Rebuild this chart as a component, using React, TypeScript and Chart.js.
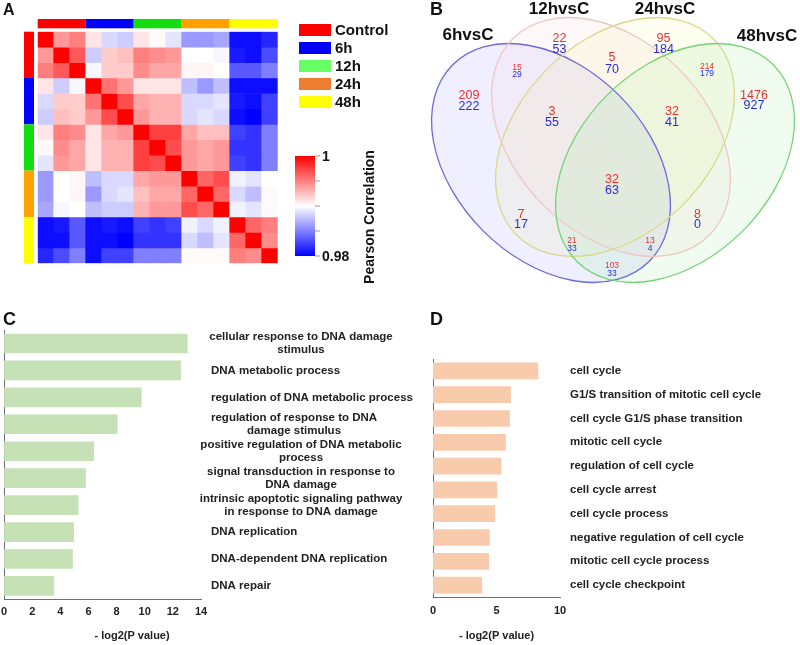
import React, { useEffect, useRef } from "react";
import { Chart, registerables } from "chart.js";
Chart.register(...registerables);

const FONT = 'Arial, "Liberation Sans", Helvetica, sans-serif';

// ---------------- Panel A: Pearson correlation heatmap ----------------
const sampleNames = ["C-1", "C-2", "C-3", "6h-1", "6h-2", "6h-3", "12h-1", "12h-2", "12h-3", "24h-1", "24h-2", "24h-3", "48h-1", "48h-2", "48h-3"];
const groupNames = ["Control", "6h", "12h", "24h", "48h"];
const groupOfSample = [0, 0, 0, 1, 1, 1, 2, 2, 2, 3, 3, 3, 4, 4, 4];
const corrC1 = [1, 0.994, 0.995, 0.991, 0.9885, 0.988, 0.991, 0.9902, 0.989, 0.986, 0.986, 0.9865, 0.9805, 0.9805, 0.9815];
const corrC2 = [0.994, 1, 0.9965, 0.988, 0.992, 0.9925, 0.995, 0.9945, 0.994, 0.99, 0.99, 0.9897, 0.981, 0.9805, 0.983];
const corrC3 = [0.995, 0.9965, 1, 0.9897, 0.992, 0.992, 0.9945, 0.9935, 0.9935, 0.9903, 0.9903, 0.99, 0.9835, 0.9835, 0.985];
const corr6h1 = [0.991, 0.988, 0.9897, 1, 0.9955, 0.994, 0.991, 0.991, 0.991, 0.9875, 0.986, 0.9875, 0.9805, 0.9805, 0.9805];
const corr6h2 = [0.9885, 0.992, 0.992, 0.9955, 1, 0.997, 0.9935, 0.993, 0.993, 0.9885, 0.9885, 0.989, 0.981, 0.9805, 0.9825];
const corr6h3 = [0.988, 0.9925, 0.992, 0.994, 0.997, 1, 0.994, 0.993, 0.993, 0.9885, 0.989, 0.9885, 0.9805, 0.98, 0.9825];
const corr12h1 = [0.991, 0.995, 0.9945, 0.991, 0.9935, 0.994, 1, 0.9975, 0.9975, 0.9935, 0.9925, 0.9925, 0.9825, 0.982, 0.985];
const corr12h2 = [0.9902, 0.9945, 0.9935, 0.991, 0.993, 0.993, 0.9975, 1, 0.997, 0.994, 0.9935, 0.994, 0.982, 0.982, 0.985];
const corr12h3 = [0.989, 0.994, 0.9935, 0.991, 0.993, 0.993, 0.9975, 0.997, 1, 0.994, 0.9935, 0.994, 0.9825, 0.982, 0.985];
const corr24h1 = [0.986, 0.99, 0.9903, 0.9875, 0.9885, 0.9885, 0.9935, 0.994, 0.994, 1, 0.996, 0.997, 0.9895, 0.989, 0.99];
const corr24h2 = [0.986, 0.99, 0.9903, 0.986, 0.9885, 0.989, 0.9925, 0.9935, 0.9935, 0.996, 1, 0.996, 0.9885, 0.9875, 0.9902];
const corr24h3 = [0.9865, 0.9897, 0.99, 0.9875, 0.988, 0.988, 0.993, 0.994, 0.994, 0.997, 0.996, 1, 0.9895, 0.989, 0.9902];
const corr48h1 = [0.9805, 0.981, 0.9835, 0.9805, 0.981, 0.9805, 0.9825, 0.982, 0.9825, 0.9895, 0.9885, 0.9895, 1, 0.996, 0.995];
const corr48h2 = [0.9805, 0.9805, 0.9835, 0.9805, 0.9805, 0.98, 0.982, 0.982, 0.982, 0.9885, 0.9875, 0.989, 0.996, 1, 0.9945];
const corr48h3 = [0.9815, 0.983, 0.985, 0.9805, 0.9825, 0.9825, 0.985, 0.985, 0.985, 0.9902, 0.9902, 0.9902, 0.995, 0.9945, 1];
const corrRows = [corrC1, corrC2, corrC3, corr6h1, corr6h2, corr6h3, corr12h1, corr12h2, corr12h3, corr24h1, corr24h2, corr24h3, corr48h1, corr48h2, corr48h3];
const colorbarTicks = [1, 0.995, 0.99, 0.985, 0.98];
const colorbarTickLabels = ["1", "", "", "", "0.98"];
const groupBarColors = ["#ff0000", "#0000ff", "#11dd11", "#ffa200", "#ffff00"];
const groupLegendColors = ["#ff0000", "#0000ff", "#66ff66", "#ed7d31", "#ffff00"];

// ---------------- Panel B: Venn diagram ----------------
const vennSetNames = ["6hvsC", "12hvsC", "24hvsC", "48hvsC"];
const vennUp = [209, 22, 95, 1476, 15, 5, 214, 3, 32, 7, 8, 32, 21, 13, 103];
const vennDown = [222, 53, 184, 927, 29, 70, 179, 55, 41, 17, 0, 63, 33, 4, 33];

// layout of Venn (not data)
const vennEllipses = [
  { cx: 151, cy: 163, a: 139, b: 96, rot: 45, fill: "rgba(110,110,255,0.11)", stroke: "#6a6adc" },
  { cx: 211, cy: 137, a: 139, b: 96, rot: 45, fill: "rgba(250,160,160,0.08)", stroke: "#efc6c6" },
  { cx: 215, cy: 137, a: 139, b: 96, rot: -45, fill: "rgba(235,235,110,0.10)", stroke: "#d9d98a" },
  { cx: 275, cy: 163, a: 139, b: 96, rot: -45, fill: "rgba(110,225,110,0.11)", stroke: "#74d474" },
];
const vennSetLabelPos = [[68, 35], [159, 9], [265, 9], [367, 36]];
const vennCountPos = [[69, 96, 106.5], [159.5, 39, 49.5], [263.5, 39, 49.5], [354, 95.5, 106], [117, 68, 75], [212, 58, 69.5], [307, 67, 74], [152, 112, 122.5], [272, 112, 122.5], [121, 215, 224.5], [297.5, 215, 224.5], [212, 179.5, 190.5], [172, 241, 249], [250, 241, 249], [212, 266, 273.5]];
const vennCountSmall = [false, false, false, false, true, false, true, false, false, false, false, false, true, true, true];

// ---------------- Panel C: GO terms (green) ----------------
const cTerms = [
  "cellular response to DNA damage\nstimulus",
  "DNA metabolic process",
  "regulation of DNA metabolic process",
  "regulation of response to DNA\ndamage stimulus",
  "positive regulation of DNA metabolic\nprocess",
  "signal transduction in response to\nDNA damage",
  "intrinsic apoptotic signaling pathway\nin response to DNA damage",
  "DNA replication",
  "DNA-dependent DNA replication",
  "DNA repair",
];
const cValues = [13.05, 12.57, 9.78, 8.07, 6.4, 5.81, 5.29, 4.98, 4.89, 3.56];

// ---------------- Panel D: GO terms (orange) ----------------
const dTerms = [
  "cell cycle",
  "G1/S transition of mitotic cell cycle",
  "cell cycle G1/S phase transition",
  "mitotic cell cycle",
  "regulation of cell cycle",
  "cell cycle arrest",
  "cell cycle process",
  "negative regulation of cell cycle",
  "mitotic cell cycle process",
  "cell cycle checkpoint",
];
const dValues = [8.29, 6.13, 6.05, 5.74, 5.39, 5.05, 4.89, 4.47, 4.42, 3.87];

const axisTitle = "- log2(P value)";

function corrColor(c: number): string {
  const t = Math.max(-1, Math.min(1, (c - 0.99) / 0.01));
  if (t >= 0) {
    const g = Math.round(255 * (1 - t));
    return `rgb(255,${g},${g})`;
  }
  const g = Math.round(255 * (1 + t));
  return `rgb(${g},${g},255)`;
}

function letter(ctx: CanvasRenderingContext2D, txt: string, x: number, y: number, size: number) {
  ctx.save();
  ctx.font = `bold ${size}px ${FONT}`;
  ctx.fillStyle = "#111";
  ctx.textAlign = "left";
  ctx.textBaseline = "alphabetic";
  ctx.fillText(txt, x, y);
  ctx.restore();
}

const heatmapDecor = {
  id: "heatmapDecor",
  afterDraw(chart: any) {
    const { ctx, chartArea, scales } = chart;
    const x = scales.x, y = scales.y;
    const cw = (chartArea.right - chartArea.left) / sampleNames.length;
    ctx.save();
    groupNames.forEach((_, gi) => {
      const idx = groupOfSample.map((g, i) => (g === gi ? i : -1)).filter((i) => i >= 0);
      const i0 = idx[0], i1 = idx[idx.length - 1];
      const xl = x.getPixelForValue(i0) - cw / 2;
      const xr = x.getPixelForValue(i1) + cw / 2;
      ctx.fillStyle = groupBarColors[gi];
      ctx.fillRect(xl, chartArea.top - 12.7, xr - xl, 9.3);
      const yt = y.getPixelForValue(i0);
      const yb = y.getPixelForValue(i1 + 1);
      ctx.fillRect(chartArea.left - 13.7, yt, 10, yb - yt);
    });
    groupNames.forEach((g, gi) => {
      const by = 24 + gi * 18;
      ctx.fillStyle = groupLegendColors[gi];
      ctx.fillRect(299, by, 32, 12);
      ctx.fillStyle = "#111";
      ctx.font = `bold 15px ${FONT}`;
      ctx.textAlign = "left";
      ctx.textBaseline = "middle";
      ctx.fillText(g, 335, by + 6.5);
    });
    const cbx = 295, cby = 156, cbw = 20, cbh = 100;
    const grad = ctx.createLinearGradient(0, cby, 0, cby + cbh);
    grad.addColorStop(0, corrColor(1));
    grad.addColorStop(0.5, corrColor(0.99));
    grad.addColorStop(1, corrColor(0.98));
    ctx.fillStyle = grad;
    ctx.fillRect(cbx, cby, cbw, cbh);
    const vmax = colorbarTicks[0], vmin = colorbarTicks[colorbarTicks.length - 1];
    colorbarTicks.forEach((v, i) => {
      const ty = cby + ((vmax - v) / (vmax - vmin)) * cbh;
      ctx.strokeStyle = "#999";
      ctx.lineWidth = 1;
      ctx.beginPath();
      ctx.moveTo(cbx + cbw, ty);
      ctx.lineTo(cbx + cbw + 5, ty);
      ctx.stroke();
      if (colorbarTickLabels[i]) {
        ctx.fillStyle = "#111";
        ctx.font = `bold 14px ${FONT}`;
        ctx.textAlign = "left";
        ctx.textBaseline = "middle";
        ctx.fillText(colorbarTickLabels[i], cbx + cbw + 7, ty + 1);
      }
    });
    ctx.save();
    ctx.translate(370, 217);
    ctx.rotate(-Math.PI / 2);
    ctx.font = `bold 14px ${FONT}`;
    ctx.fillStyle = "#111";
    ctx.textAlign = "center";
    ctx.textBaseline = "middle";
    ctx.fillText("Pearson Correlation", 0, 0);
    ctx.restore();
    ctx.restore();
    letter(ctx, "A", 3, 15, 16);
  },
};

const vennPlugin = {
  id: "venn",
  afterDraw(chart: any) {
    const { ctx, scales } = chart;
    const px = (v: number) => scales.x.getPixelForValue(v);
    const py = (v: number) => scales.y.getPixelForValue(v);
    ctx.save();
    const path = (e: any) => {
      ctx.beginPath();
      ctx.ellipse(px(e.cx), py(e.cy), Math.abs(px(e.cx + e.a) - px(e.cx)), Math.abs(py(e.cy + e.b) - py(e.cy)), (e.rot * Math.PI) / 180, 0, Math.PI * 2);
    };
    vennEllipses.forEach((e) => {
      path(e);
      ctx.fillStyle = e.fill;
      ctx.fill();
    });
    vennEllipses.forEach((e) => {
      path(e);
      ctx.strokeStyle = e.stroke;
      ctx.lineWidth = 1.3;
      ctx.stroke();
    });
    ctx.textAlign = "center";
    ctx.textBaseline = "middle";
    vennSetNames.forEach((n, i) => {
      ctx.font = `bold 17px ${FONT}`;
      ctx.fillStyle = "#111";
      ctx.fillText(n, px(vennSetLabelPos[i][0]), py(vennSetLabelPos[i][1]));
    });
    vennUp.forEach((u, i) => {
      const [lx, ly1, ly2] = vennCountPos[i];
      const size = vennCountSmall[i] ? 8.5 : 12.5;
      ctx.font = `${size}px ${FONT}`;
      ctx.fillStyle = "#e83232";
      ctx.fillText(String(u), px(lx), py(ly1));
      ctx.fillStyle = "#2b2bd6";
      ctx.fillText(String(vennDown[i]), px(lx), py(ly2));
    });
    ctx.restore();
    letter(ctx, "B", 30, 15, 18);
  },
};

function termLabels(terms: string[], title: string, titleOffset: number | null, letterTxt: string, letterX: number) {
  return {
    id: "termLabels",
    afterDraw(chart: any) {
      const { ctx, chartArea, scales } = chart;
      const y = scales.y;
      ctx.save();
      ctx.font = `bold 11.5px ${FONT}`;
      ctx.fillStyle = "#222";
      ctx.textBaseline = "middle";
      ctx.textAlign = "center";
      terms.forEach((t, i) => {
        const lines = t.split("\n");
        const cy = y.getPixelForValue(i);
        const maxW = Math.max(...lines.map((l) => ctx.measureText(l).width));
        let left = chartArea.right + 10;
        if (lines.length > 1) left = Math.min(left, chartArea.right + 100 - maxW / 2);
        lines.forEach((l, k) => {
          ctx.fillText(l, left + maxW / 2, cy + (k - (lines.length - 1) / 2) * 13);
        });
      });
      ctx.font = `bold 11px ${FONT}`;
      const tx = titleOffset === null ? (chartArea.left + chartArea.right) / 2 : chartArea.left + titleOffset;
      ctx.fillText(title, tx, chart.height - 9.5);
      ctx.restore();
      letter(ctx, letterTxt, letterX, 15, 18);
    },
  };
}

function barOptions(padding: any, max: number, step: number, tickPad: number) {
  return {
    indexAxis: "y" as const,
    animation: false as const,
    responsive: false,
    layout: { padding },
    plugins: { legend: { display: false }, tooltip: { enabled: false } },
    scales: {
      x: {
        min: 0,
        max,
        ticks: { stepSize: step, padding: tickPad, color: "#222", font: { family: FONT, size: 11, weight: "bold" as const } },
        grid: { display: false, drawTicks: false },
        border: { display: true, color: "#6f6f6f", width: 1 },
      },
      y: {
        ticks: { display: false },
        grid: { display: false, drawTicks: false },
        border: { display: true, color: "#6f6f6f", width: 1 },
      },
    },
  };
}

export default function App() {
  const aRef = useRef<HTMLCanvasElement>(null);
  const bRef = useRef<HTMLCanvasElement>(null);
  const cRef = useRef<HTMLCanvasElement>(null);
  const dRef = useRef<HTMLCanvasElement>(null);

  useEffect(() => {
    const charts: Chart[] = [];
    charts.push(
      new Chart(aRef.current!, {
        type: "bar",
        data: {
          labels: sampleNames,
          datasets: corrRows.map((row, r) => ({
            label: sampleNames[r],
            data: sampleNames.map(() => 1),
            backgroundColor: row.map(corrColor),
            borderWidth: 0,
            barPercentage: 1,
            categoryPercentage: 1,
          })),
        },
        options: {
          animation: false,
          responsive: false,
          layout: { padding: { left: 37.7, right: 122.3, top: 31.7, bottom: 36.7 } },
          plugins: { legend: { display: false }, tooltip: { enabled: false } },
          scales: {
            x: { display: false, stacked: true },
            y: { display: false, stacked: true, reverse: true, min: 0, max: sampleNames.length },
          },
        },
        plugins: [heatmapDecor],
      } as any)
    );
    charts.push(
      new Chart(bRef.current!, {
        type: "scatter",
        data: { datasets: [] },
        options: {
          animation: false,
          responsive: false,
          layout: { padding: 0 },
          plugins: { legend: { display: false }, tooltip: { enabled: false } },
          scales: {
            x: { display: false, min: 0, max: 400 },
            y: { display: false, min: 0, max: 300, reverse: true },
          },
        },
        plugins: [vennPlugin],
      } as any)
    );
    charts.push(
      new Chart(cRef.current!, {
        type: "bar",
        data: {
          labels: cTerms,
          datasets: [{ data: cValues, backgroundColor: "#c6e1b5", borderWidth: 0, barPercentage: 0.73, categoryPercentage: 1 }],
        },
        options: barOptions({ left: 3.5, right: 220, top: 20, bottom: 20.4 }, 14, 2, 6),
        plugins: [termLabels(cTerms, axisTitle, 128, "C", 8)],
      } as any)
    );
    charts.push(
      new Chart(dRef.current!, {
        type: "bar",
        data: {
          labels: dTerms,
          datasets: [{ data: dValues, backgroundColor: "#f8cbad", borderWidth: 0, barPercentage: 0.7, categoryPercentage: 1 }],
        },
        options: barOptions({ left: 33, right: 240, top: 49, bottom: 20.8 }, 10, 5, 7),
        plugins: [termLabels(dTerms, axisTitle, null, "D", 30)],
      } as any)
    );
    return () => charts.forEach((c) => c.destroy());
  }, []);

  const cs = (l: number, t: number, w: number, h: number): React.CSSProperties => ({ position: "absolute", left: l, top: t, width: w, height: h });
  return (
    <div style={{ position: "fixed", left: 0, top: 0, width: 800, height: 645, background: "#fff", overflow: "hidden" }}>
      <canvas ref={aRef} width={400} height={300} style={cs(0, 0, 400, 300)} />
      <canvas ref={bRef} width={400} height={300} style={cs(400, 0, 400, 300)} />
      <canvas ref={cRef} width={426} height={335} style={cs(-5, 310, 426, 335)} />
      <canvas ref={dRef} width={400} height={335} style={cs(400, 310, 400, 335)} />
    </div>
  );
}
